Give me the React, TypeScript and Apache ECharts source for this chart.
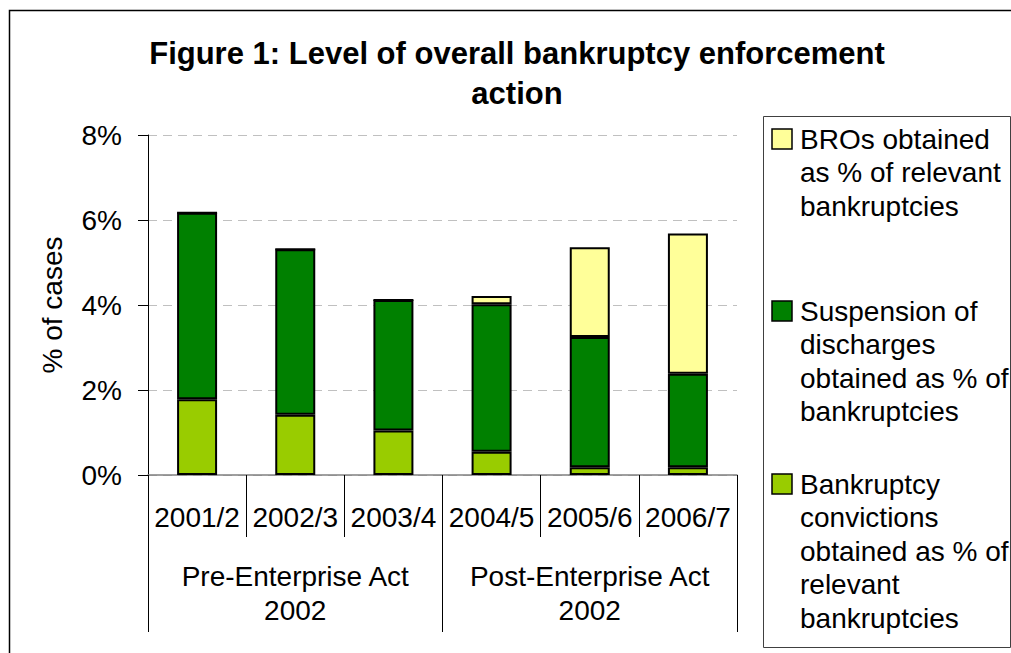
import React, { useEffect, useRef } from 'react';
import * as echarts from 'echarts';

const categories = ['2001/2', '2002/3', '2003/4', '2004/5', '2005/6', '2006/7'];
const groups = ['Pre-Enterprise Act\n2002', 'Post-Enterprise Act\n2002'];
const convictions = [1.78, 1.42, 1.05, 0.55, 0.18, 0.18];
const suspensions = [4.39, 3.89, 3.07, 3.47, 3.07, 2.2];
const bros = [0, 0, 0, 0.19, 2.11, 3.3];
const yMin = 0;
const yMax = 8;
const yStep = 2;

const titleLines = ['Figure 1: Level of overall bankruptcy enforcement', 'action'];
const legendItems = [
  { lines: ['BROs obtained', 'as % of relevant', 'bankruptcies'], color: '#FFFF99' },
  { lines: ['Suspension of', 'discharges', 'obtained as % of', 'bankruptcies'], color: '#008000' },
  { lines: ['Bankruptcy', 'convictions', 'obtained as % of', 'relevant', 'bankruptcies'], color: '#99CC00' },
];

const FONT = '"Liberation Sans", Arial, Helvetica, sans-serif';

export default function App() {
  const ref = useRef<HTMLDivElement>(null);
  useEffect(() => {
    if (!ref.current) return;
    const chart = echarts.init(ref.current, undefined, { renderer: 'svg' });

    const legendTops = [139, 311, 484];
    const lineGap = 33.5;
    const graphics: any[] = [
      {
        type: 'rect',
        z: 0,
        shape: { x: 9.5, y: 10.5, width: 1100, height: 1000 },
        style: { fill: 'none', stroke: '#000', lineWidth: 1.5 },
      },
      {
        type: 'rect',
        z: 1,
        shape: { x: 763.5, y: 116.5, width: 247, height: 531 },
        style: { fill: '#fff', stroke: '#404040', lineWidth: 1 },
      },
      {
        type: 'text',
        x: 517,
        y: 53,
        style: {
          text: titleLines[0],
          textAlign: 'center',
          textVerticalAlign: 'middle',
          font: `bold 31px ${FONT}`,
          fill: '#000',
        },
      },
      {
        type: 'text',
        x: 517,
        y: 93,
        style: {
          text: titleLines[1],
          textAlign: 'center',
          textVerticalAlign: 'middle',
          font: `bold 31px ${FONT}`,
          fill: '#000',
        },
      },
    ];
    legendItems.forEach((item, i) => {
      const cy = legendTops[i];
      graphics.push({
        type: 'rect',
        z: 2,
        shape: { x: 772, y: cy - 10, width: 20, height: 20 },
        style: { fill: item.color, stroke: '#000', lineWidth: 1.5 },
      });
      item.lines.forEach((ln, j) => {
        graphics.push({
          type: 'text',
          z: 2,
          x: 800,
          y: cy + j * lineGap,
          style: {
            text: ln,
            textAlign: 'left',
            textVerticalAlign: 'middle',
            font: `28px ${FONT}`,
            fill: '#000',
          },
        });
      });
    });

    chart.setOption({
      animation: false,
      backgroundColor: '#fff',
      textStyle: { fontFamily: FONT },
      grid: { left: 148, top: 135, width: 589, height: 340 },
      graphic: graphics,
      xAxis: [
        {
          type: 'category',
          data: categories,
          position: 'bottom',
          axisLine: { show: true, lineStyle: { color: '#808080', width: 1.5 } },
          axisTick: { show: true, interval: 0, length: 62, lineStyle: { color: '#000', width: 1 } },
          axisLabel: { interval: 0, fontSize: 28, color: '#000', margin: 28, fontFamily: FONT },
          splitLine: { show: false },
        },
        {
          type: 'category',
          data: groups,
          position: 'bottom',
          axisLine: { show: false },
          axisTick: { show: true, interval: 0, length: 157, lineStyle: { color: '#000', width: 1 } },
          axisLabel: { interval: 0, fontSize: 28, lineHeight: 34, color: '#000', margin: 84, fontFamily: FONT },
          splitLine: { show: false },
        },
      ],
      yAxis: {
        type: 'value',
        min: yMin,
        max: yMax,
        interval: yStep,
        name: '% of cases',
        nameLocation: 'middle',
        nameRotate: 90,
        nameGap: 82,
        nameTextStyle: { fontSize: 28, color: '#000', fontFamily: FONT },
        axisLine: { show: true, lineStyle: { color: '#000', width: 1 } },
        axisTick: { show: true, length: 10, lineStyle: { color: '#000' } },
        axisLabel: { formatter: '{value}%', fontSize: 28, color: '#000', margin: 26, fontFamily: FONT },
        splitLine: { show: true, lineStyle: { color: '#c0c0c0', type: [9, 6], width: 1 } },
      },
      series: [
        {
          name: 'Bankruptcy convictions obtained as % of relevant bankruptcies',
          type: 'bar',
          stack: 'total',
          barWidth: 40,
          data: convictions,
          itemStyle: { color: '#99CC00', borderColor: '#000', borderWidth: 2 },
        },
        {
          name: 'Suspension of discharges obtained as % of bankruptcies',
          type: 'bar',
          stack: 'total',
          barWidth: 40,
          data: suspensions,
          itemStyle: { color: '#008000', borderColor: '#000', borderWidth: 2 },
        },
        {
          name: 'BROs obtained as % of relevant bankruptcies',
          type: 'bar',
          stack: 'total',
          barWidth: 40,
          data: bros,
          itemStyle: { color: '#FFFF99', borderColor: '#000', borderWidth: 2 },
        },
      ],
    });
    return () => chart.dispose();
  }, []);
  return <div ref={ref} style={{ position: 'absolute', left: 0, top: 0, width: 1011, height: 653 }} />;
}
